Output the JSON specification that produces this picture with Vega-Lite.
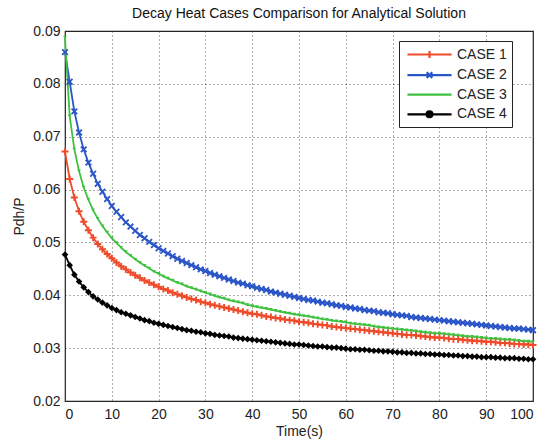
{
"$schema":"https://vega.github.io/schema/vega-lite/v6.json",
"width":468,"height":370,
"autosize":{"type":"none"},
"padding":{"left":65,"top":31,"right":10,"bottom":41},
"background":"white",
"title":{"text":"Decay Heat Cases Comparison for Analytical Solution","fontSize":14,"font":"Liberation Sans","fontWeight":"normal","color":"#111","offset":3,"anchor":"middle"},
"config":{
"view":{"stroke":"#222","strokeWidth":1.2},
"axis":{"labelFont":"Liberation Sans","titleFont":"Liberation Sans","labelFontSize":14,"titleFontSize":14,"titleFontWeight":"normal","labelColor":"#222","titleColor":"#222","domain":false,"ticks":false,"gridColor":"#333","gridDash":[1,3],"gridWidth":1,"gridOpacity":0.8},
"legend":{"labelFont":"Liberation Sans","labelFontSize":14,"labelColor":"#222"}
},
"datasets":{"d":[
{"t":0,"c":"CASE 1","v":0.0672},{"t":1,"c":"CASE 1","v":0.0620},{"t":2,"c":"CASE 1","v":0.0585},{"t":3,"c":"CASE 1","v":0.0559},{"t":4,"c":"CASE 1","v":0.0539},{"t":5,"c":"CASE 1","v":0.0523},{"t":6,"c":"CASE 1","v":0.0509},{"t":7,"c":"CASE 1","v":0.0497},{"t":8,"c":"CASE 1","v":0.0487},{"t":9,"c":"CASE 1","v":0.0478},
{"t":10,"c":"CASE 1","v":0.0470},{"t":11,"c":"CASE 1","v":0.0462},{"t":12,"c":"CASE 1","v":0.0455},{"t":13,"c":"CASE 1","v":0.0449},{"t":14,"c":"CASE 1","v":0.0443},{"t":15,"c":"CASE 1","v":0.0438},{"t":16,"c":"CASE 1","v":0.0433},{"t":17,"c":"CASE 1","v":0.0428},{"t":18,"c":"CASE 1","v":0.0424},{"t":19,"c":"CASE 1","v":0.0420},
{"t":20,"c":"CASE 1","v":0.0416},{"t":21,"c":"CASE 1","v":0.0412},{"t":22,"c":"CASE 1","v":0.0409},{"t":23,"c":"CASE 1","v":0.0405},{"t":24,"c":"CASE 1","v":0.0402},{"t":25,"c":"CASE 1","v":0.0399},{"t":26,"c":"CASE 1","v":0.0396},{"t":27,"c":"CASE 1","v":0.0393},{"t":28,"c":"CASE 1","v":0.0391},{"t":29,"c":"CASE 1","v":0.0388},
{"t":30,"c":"CASE 1","v":0.0386},{"t":31,"c":"CASE 1","v":0.0383},{"t":32,"c":"CASE 1","v":0.0381},{"t":33,"c":"CASE 1","v":0.0379},{"t":34,"c":"CASE 1","v":0.0377},{"t":35,"c":"CASE 1","v":0.0375},{"t":36,"c":"CASE 1","v":0.0373},{"t":37,"c":"CASE 1","v":0.0371},{"t":38,"c":"CASE 1","v":0.0369},{"t":39,"c":"CASE 1","v":0.0367},
{"t":40,"c":"CASE 1","v":0.0365},{"t":41,"c":"CASE 1","v":0.0364},{"t":42,"c":"CASE 1","v":0.0362},{"t":43,"c":"CASE 1","v":0.0360},{"t":44,"c":"CASE 1","v":0.0359},{"t":45,"c":"CASE 1","v":0.0357},{"t":46,"c":"CASE 1","v":0.0356},{"t":47,"c":"CASE 1","v":0.0354},{"t":48,"c":"CASE 1","v":0.0353},{"t":49,"c":"CASE 1","v":0.0352},
{"t":50,"c":"CASE 1","v":0.0350},{"t":51,"c":"CASE 1","v":0.0349},{"t":52,"c":"CASE 1","v":0.0348},{"t":53,"c":"CASE 1","v":0.0346},{"t":54,"c":"CASE 1","v":0.0345},{"t":55,"c":"CASE 1","v":0.0344},{"t":56,"c":"CASE 1","v":0.0343},{"t":57,"c":"CASE 1","v":0.0341},{"t":58,"c":"CASE 1","v":0.0340},{"t":59,"c":"CASE 1","v":0.0339},
{"t":60,"c":"CASE 1","v":0.0338},{"t":61,"c":"CASE 1","v":0.0337},{"t":62,"c":"CASE 1","v":0.0336},{"t":63,"c":"CASE 1","v":0.0335},{"t":64,"c":"CASE 1","v":0.0334},{"t":65,"c":"CASE 1","v":0.0333},{"t":66,"c":"CASE 1","v":0.0332},{"t":67,"c":"CASE 1","v":0.0331},{"t":68,"c":"CASE 1","v":0.0330},{"t":69,"c":"CASE 1","v":0.0329},
{"t":70,"c":"CASE 1","v":0.0328},{"t":71,"c":"CASE 1","v":0.0327},{"t":72,"c":"CASE 1","v":0.0326},{"t":73,"c":"CASE 1","v":0.0325},{"t":74,"c":"CASE 1","v":0.0325},{"t":75,"c":"CASE 1","v":0.0324},{"t":76,"c":"CASE 1","v":0.0323},{"t":77,"c":"CASE 1","v":0.0322},{"t":78,"c":"CASE 1","v":0.0321},{"t":79,"c":"CASE 1","v":0.0320},
{"t":80,"c":"CASE 1","v":0.0320},{"t":81,"c":"CASE 1","v":0.0319},{"t":82,"c":"CASE 1","v":0.0318},{"t":83,"c":"CASE 1","v":0.0317},{"t":84,"c":"CASE 1","v":0.0317},{"t":85,"c":"CASE 1","v":0.0316},{"t":86,"c":"CASE 1","v":0.0315},{"t":87,"c":"CASE 1","v":0.0314},{"t":88,"c":"CASE 1","v":0.0314},{"t":89,"c":"CASE 1","v":0.0313},
{"t":90,"c":"CASE 1","v":0.0312},{"t":91,"c":"CASE 1","v":0.0312},{"t":92,"c":"CASE 1","v":0.0311},{"t":93,"c":"CASE 1","v":0.0310},{"t":94,"c":"CASE 1","v":0.0310},{"t":95,"c":"CASE 1","v":0.0309},{"t":96,"c":"CASE 1","v":0.0308},{"t":97,"c":"CASE 1","v":0.0308},{"t":98,"c":"CASE 1","v":0.0307},{"t":99,"c":"CASE 1","v":0.0307},{"t":100,"c":"CASE 1","v":0.0306},
{"t":0,"c":"CASE 2","v":0.0860},{"t":1,"c":"CASE 2","v":0.0804},{"t":2,"c":"CASE 2","v":0.0748},{"t":3,"c":"CASE 2","v":0.0708},{"t":4,"c":"CASE 2","v":0.0676},{"t":5,"c":"CASE 2","v":0.0651},{"t":6,"c":"CASE 2","v":0.0630},{"t":7,"c":"CASE 2","v":0.0611},{"t":8,"c":"CASE 2","v":0.0596},{"t":9,"c":"CASE 2","v":0.0582},
{"t":10,"c":"CASE 2","v":0.0569},{"t":11,"c":"CASE 2","v":0.0558},{"t":12,"c":"CASE 2","v":0.0548},{"t":13,"c":"CASE 2","v":0.0538},{"t":14,"c":"CASE 2","v":0.0530},{"t":15,"c":"CASE 2","v":0.0522},{"t":16,"c":"CASE 2","v":0.0514},{"t":17,"c":"CASE 2","v":0.0508},{"t":18,"c":"CASE 2","v":0.0501},{"t":19,"c":"CASE 2","v":0.0495},
{"t":20,"c":"CASE 2","v":0.0489},{"t":21,"c":"CASE 2","v":0.0484},{"t":22,"c":"CASE 2","v":0.0479},{"t":23,"c":"CASE 2","v":0.0474},{"t":24,"c":"CASE 2","v":0.0469},{"t":25,"c":"CASE 2","v":0.0465},{"t":26,"c":"CASE 2","v":0.0461},{"t":27,"c":"CASE 2","v":0.0457},{"t":28,"c":"CASE 2","v":0.0453},{"t":29,"c":"CASE 2","v":0.0449},
{"t":30,"c":"CASE 2","v":0.0446},{"t":31,"c":"CASE 2","v":0.0442},{"t":32,"c":"CASE 2","v":0.0439},{"t":33,"c":"CASE 2","v":0.0436},{"t":34,"c":"CASE 2","v":0.0433},{"t":35,"c":"CASE 2","v":0.0430},{"t":36,"c":"CASE 2","v":0.0427},{"t":37,"c":"CASE 2","v":0.0424},{"t":38,"c":"CASE 2","v":0.0422},{"t":39,"c":"CASE 2","v":0.0419},
{"t":40,"c":"CASE 2","v":0.0417},{"t":41,"c":"CASE 2","v":0.0414},{"t":42,"c":"CASE 2","v":0.0412},{"t":43,"c":"CASE 2","v":0.0410},{"t":44,"c":"CASE 2","v":0.0407},{"t":45,"c":"CASE 2","v":0.0405},{"t":46,"c":"CASE 2","v":0.0403},{"t":47,"c":"CASE 2","v":0.0401},{"t":48,"c":"CASE 2","v":0.0399},{"t":49,"c":"CASE 2","v":0.0397},
{"t":50,"c":"CASE 2","v":0.0395},{"t":51,"c":"CASE 2","v":0.0393},{"t":52,"c":"CASE 2","v":0.0391},{"t":53,"c":"CASE 2","v":0.0390},{"t":54,"c":"CASE 2","v":0.0388},{"t":55,"c":"CASE 2","v":0.0386},{"t":56,"c":"CASE 2","v":0.0385},{"t":57,"c":"CASE 2","v":0.0383},{"t":58,"c":"CASE 2","v":0.0381},{"t":59,"c":"CASE 2","v":0.0380},
{"t":60,"c":"CASE 2","v":0.0378},{"t":61,"c":"CASE 2","v":0.0377},{"t":62,"c":"CASE 2","v":0.0375},{"t":63,"c":"CASE 2","v":0.0374},{"t":64,"c":"CASE 2","v":0.0372},{"t":65,"c":"CASE 2","v":0.0371},{"t":66,"c":"CASE 2","v":0.0370},{"t":67,"c":"CASE 2","v":0.0368},{"t":68,"c":"CASE 2","v":0.0367},{"t":69,"c":"CASE 2","v":0.0366},
{"t":70,"c":"CASE 2","v":0.0364},{"t":71,"c":"CASE 2","v":0.0363},{"t":72,"c":"CASE 2","v":0.0362},{"t":73,"c":"CASE 2","v":0.0361},{"t":74,"c":"CASE 2","v":0.0359},{"t":75,"c":"CASE 2","v":0.0358},{"t":76,"c":"CASE 2","v":0.0357},{"t":77,"c":"CASE 2","v":0.0356},{"t":78,"c":"CASE 2","v":0.0355},{"t":79,"c":"CASE 2","v":0.0354},
{"t":80,"c":"CASE 2","v":0.0353},{"t":81,"c":"CASE 2","v":0.0352},{"t":82,"c":"CASE 2","v":0.0351},{"t":83,"c":"CASE 2","v":0.0350},{"t":84,"c":"CASE 2","v":0.0349},{"t":85,"c":"CASE 2","v":0.0348},{"t":86,"c":"CASE 2","v":0.0347},{"t":87,"c":"CASE 2","v":0.0346},{"t":88,"c":"CASE 2","v":0.0345},{"t":89,"c":"CASE 2","v":0.0344},
{"t":90,"c":"CASE 2","v":0.0343},{"t":91,"c":"CASE 2","v":0.0342},{"t":92,"c":"CASE 2","v":0.0341},{"t":93,"c":"CASE 2","v":0.0340},{"t":94,"c":"CASE 2","v":0.0339},{"t":95,"c":"CASE 2","v":0.0338},{"t":96,"c":"CASE 2","v":0.0337},{"t":97,"c":"CASE 2","v":0.0337},{"t":98,"c":"CASE 2","v":0.0336},{"t":99,"c":"CASE 2","v":0.0335},{"t":100,"c":"CASE 2","v":0.0334},
{"t":0,"c":"CASE 3","v":0.0888},{"t":1,"c":"CASE 3","v":0.0739},{"t":2,"c":"CASE 3","v":0.0676},{"t":3,"c":"CASE 3","v":0.0635},{"t":4,"c":"CASE 3","v":0.0604},{"t":5,"c":"CASE 3","v":0.0581},{"t":6,"c":"CASE 3","v":0.0561},{"t":7,"c":"CASE 3","v":0.0545},{"t":8,"c":"CASE 3","v":0.0531},{"t":9,"c":"CASE 3","v":0.0519},
{"t":10,"c":"CASE 3","v":0.0508},{"t":11,"c":"CASE 3","v":0.0499},{"t":12,"c":"CASE 3","v":0.0490},{"t":13,"c":"CASE 3","v":0.0482},{"t":14,"c":"CASE 3","v":0.0475},{"t":15,"c":"CASE 3","v":0.0468},{"t":16,"c":"CASE 3","v":0.0462},{"t":17,"c":"CASE 3","v":0.0456},{"t":18,"c":"CASE 3","v":0.0451},{"t":19,"c":"CASE 3","v":0.0445},
{"t":20,"c":"CASE 3","v":0.0441},{"t":21,"c":"CASE 3","v":0.0436},{"t":22,"c":"CASE 3","v":0.0432},{"t":23,"c":"CASE 3","v":0.0428},{"t":24,"c":"CASE 3","v":0.0424},{"t":25,"c":"CASE 3","v":0.0421},{"t":26,"c":"CASE 3","v":0.0417},{"t":27,"c":"CASE 3","v":0.0414},{"t":28,"c":"CASE 3","v":0.0411},{"t":29,"c":"CASE 3","v":0.0408},
{"t":30,"c":"CASE 3","v":0.0405},{"t":31,"c":"CASE 3","v":0.0402},{"t":32,"c":"CASE 3","v":0.0399},{"t":33,"c":"CASE 3","v":0.0396},{"t":34,"c":"CASE 3","v":0.0394},{"t":35,"c":"CASE 3","v":0.0391},{"t":36,"c":"CASE 3","v":0.0389},{"t":37,"c":"CASE 3","v":0.0387},{"t":38,"c":"CASE 3","v":0.0385},{"t":39,"c":"CASE 3","v":0.0382},
{"t":40,"c":"CASE 3","v":0.0380},{"t":41,"c":"CASE 3","v":0.0378},{"t":42,"c":"CASE 3","v":0.0376},{"t":43,"c":"CASE 3","v":0.0375},{"t":44,"c":"CASE 3","v":0.0373},{"t":45,"c":"CASE 3","v":0.0371},{"t":46,"c":"CASE 3","v":0.0369},{"t":47,"c":"CASE 3","v":0.0367},{"t":48,"c":"CASE 3","v":0.0366},{"t":49,"c":"CASE 3","v":0.0364},
{"t":50,"c":"CASE 3","v":0.0363},{"t":51,"c":"CASE 3","v":0.0361},{"t":52,"c":"CASE 3","v":0.0360},{"t":53,"c":"CASE 3","v":0.0358},{"t":54,"c":"CASE 3","v":0.0357},{"t":55,"c":"CASE 3","v":0.0355},{"t":56,"c":"CASE 3","v":0.0354},{"t":57,"c":"CASE 3","v":0.0352},{"t":58,"c":"CASE 3","v":0.0351},{"t":59,"c":"CASE 3","v":0.0350},
{"t":60,"c":"CASE 3","v":0.0349},{"t":61,"c":"CASE 3","v":0.0347},{"t":62,"c":"CASE 3","v":0.0346},{"t":63,"c":"CASE 3","v":0.0345},{"t":64,"c":"CASE 3","v":0.0344},{"t":65,"c":"CASE 3","v":0.0343},{"t":66,"c":"CASE 3","v":0.0341},{"t":67,"c":"CASE 3","v":0.0340},{"t":68,"c":"CASE 3","v":0.0339},{"t":69,"c":"CASE 3","v":0.0338},
{"t":70,"c":"CASE 3","v":0.0337},{"t":71,"c":"CASE 3","v":0.0336},{"t":72,"c":"CASE 3","v":0.0335},{"t":73,"c":"CASE 3","v":0.0334},{"t":74,"c":"CASE 3","v":0.0333},{"t":75,"c":"CASE 3","v":0.0332},{"t":76,"c":"CASE 3","v":0.0331},{"t":77,"c":"CASE 3","v":0.0330},{"t":78,"c":"CASE 3","v":0.0329},{"t":79,"c":"CASE 3","v":0.0328},
{"t":80,"c":"CASE 3","v":0.0328},{"t":81,"c":"CASE 3","v":0.0327},{"t":82,"c":"CASE 3","v":0.0326},{"t":83,"c":"CASE 3","v":0.0325},{"t":84,"c":"CASE 3","v":0.0324},{"t":85,"c":"CASE 3","v":0.0323},{"t":86,"c":"CASE 3","v":0.0322},{"t":87,"c":"CASE 3","v":0.0322},{"t":88,"c":"CASE 3","v":0.0321},{"t":89,"c":"CASE 3","v":0.0320},
{"t":90,"c":"CASE 3","v":0.0319},{"t":91,"c":"CASE 3","v":0.0318},{"t":92,"c":"CASE 3","v":0.0318},{"t":93,"c":"CASE 3","v":0.0317},{"t":94,"c":"CASE 3","v":0.0316},{"t":95,"c":"CASE 3","v":0.0316},{"t":96,"c":"CASE 3","v":0.0315},{"t":97,"c":"CASE 3","v":0.0314},{"t":98,"c":"CASE 3","v":0.0313},{"t":99,"c":"CASE 3","v":0.0313},{"t":100,"c":"CASE 3","v":0.0312},
{"t":0,"c":"CASE 4","v":0.0477},{"t":1,"c":"CASE 4","v":0.0457},{"t":2,"c":"CASE 4","v":0.0439},{"t":3,"c":"CASE 4","v":0.0426},{"t":4,"c":"CASE 4","v":0.0415},{"t":5,"c":"CASE 4","v":0.0406},{"t":6,"c":"CASE 4","v":0.0398},{"t":7,"c":"CASE 4","v":0.0392},{"t":8,"c":"CASE 4","v":0.0386},{"t":9,"c":"CASE 4","v":0.0381},
{"t":10,"c":"CASE 4","v":0.0376},{"t":11,"c":"CASE 4","v":0.0372},{"t":12,"c":"CASE 4","v":0.0368},{"t":13,"c":"CASE 4","v":0.0365},{"t":14,"c":"CASE 4","v":0.0362},{"t":15,"c":"CASE 4","v":0.0359},{"t":16,"c":"CASE 4","v":0.0356},{"t":17,"c":"CASE 4","v":0.0353},{"t":18,"c":"CASE 4","v":0.0351},{"t":19,"c":"CASE 4","v":0.0348},
{"t":20,"c":"CASE 4","v":0.0346},{"t":21,"c":"CASE 4","v":0.0344},{"t":22,"c":"CASE 4","v":0.0342},{"t":23,"c":"CASE 4","v":0.0340},{"t":24,"c":"CASE 4","v":0.0338},{"t":25,"c":"CASE 4","v":0.0336},{"t":26,"c":"CASE 4","v":0.0334},{"t":27,"c":"CASE 4","v":0.0333},{"t":28,"c":"CASE 4","v":0.0331},{"t":29,"c":"CASE 4","v":0.0330},
{"t":30,"c":"CASE 4","v":0.0328},{"t":31,"c":"CASE 4","v":0.0327},{"t":32,"c":"CASE 4","v":0.0325},{"t":33,"c":"CASE 4","v":0.0324},{"t":34,"c":"CASE 4","v":0.0323},{"t":35,"c":"CASE 4","v":0.0322},{"t":36,"c":"CASE 4","v":0.0320},{"t":37,"c":"CASE 4","v":0.0319},{"t":38,"c":"CASE 4","v":0.0318},{"t":39,"c":"CASE 4","v":0.0317},
{"t":40,"c":"CASE 4","v":0.0316},{"t":41,"c":"CASE 4","v":0.0315},{"t":42,"c":"CASE 4","v":0.0314},{"t":43,"c":"CASE 4","v":0.0313},{"t":44,"c":"CASE 4","v":0.0312},{"t":45,"c":"CASE 4","v":0.0311},{"t":46,"c":"CASE 4","v":0.0310},{"t":47,"c":"CASE 4","v":0.0309},{"t":48,"c":"CASE 4","v":0.0308},{"t":49,"c":"CASE 4","v":0.0307},
{"t":50,"c":"CASE 4","v":0.0307},{"t":51,"c":"CASE 4","v":0.0306},{"t":52,"c":"CASE 4","v":0.0305},{"t":53,"c":"CASE 4","v":0.0304},{"t":54,"c":"CASE 4","v":0.0303},{"t":55,"c":"CASE 4","v":0.0303},{"t":56,"c":"CASE 4","v":0.0302},{"t":57,"c":"CASE 4","v":0.0301},{"t":58,"c":"CASE 4","v":0.0301},{"t":59,"c":"CASE 4","v":0.0300},
{"t":60,"c":"CASE 4","v":0.0299},{"t":61,"c":"CASE 4","v":0.0298},{"t":62,"c":"CASE 4","v":0.0298},{"t":63,"c":"CASE 4","v":0.0297},{"t":64,"c":"CASE 4","v":0.0297},{"t":65,"c":"CASE 4","v":0.0296},{"t":66,"c":"CASE 4","v":0.0295},{"t":67,"c":"CASE 4","v":0.0295},{"t":68,"c":"CASE 4","v":0.0294},{"t":69,"c":"CASE 4","v":0.0294},
{"t":70,"c":"CASE 4","v":0.0293},{"t":71,"c":"CASE 4","v":0.0292},{"t":72,"c":"CASE 4","v":0.0292},{"t":73,"c":"CASE 4","v":0.0291},{"t":74,"c":"CASE 4","v":0.0291},{"t":75,"c":"CASE 4","v":0.0290},{"t":76,"c":"CASE 4","v":0.0290},{"t":77,"c":"CASE 4","v":0.0289},{"t":78,"c":"CASE 4","v":0.0289},{"t":79,"c":"CASE 4","v":0.0288},
{"t":80,"c":"CASE 4","v":0.0288},{"t":81,"c":"CASE 4","v":0.0287},{"t":82,"c":"CASE 4","v":0.0287},{"t":83,"c":"CASE 4","v":0.0286},{"t":84,"c":"CASE 4","v":0.0286},{"t":85,"c":"CASE 4","v":0.0285},{"t":86,"c":"CASE 4","v":0.0285},{"t":87,"c":"CASE 4","v":0.0284},{"t":88,"c":"CASE 4","v":0.0284},{"t":89,"c":"CASE 4","v":0.0283},
{"t":90,"c":"CASE 4","v":0.0283},{"t":91,"c":"CASE 4","v":0.0283},{"t":92,"c":"CASE 4","v":0.0282},{"t":93,"c":"CASE 4","v":0.0282},{"t":94,"c":"CASE 4","v":0.0281},{"t":95,"c":"CASE 4","v":0.0281},{"t":96,"c":"CASE 4","v":0.0281},{"t":97,"c":"CASE 4","v":0.0280},{"t":98,"c":"CASE 4","v":0.0280},{"t":99,"c":"CASE 4","v":0.0279},{"t":100,"c":"CASE 4","v":0.0279}
]},
"data":{"name":"d"},
"encoding":{
"x":{"field":"t","type":"quantitative","scale":{"domain":[0,100],"nice":false,"zero":false},"axis":{"values":[0,10,20,30,40,50,60,70,80,90,100],"title":"Time(s)","labelPadding":6,"titlePadding":3}},
"y":{"field":"v","type":"quantitative","scale":{"domain":[0.02,0.09],"nice":false,"zero":false},"axis":{"values":[0.02,0.03,0.04,0.05,0.06,0.07,0.08,0.09],"format":".2f","title":"Pdh/P","labelPadding":5,"titlePadding":6}}
},
"layer":[
{"mark":{"type":"line","strokeWidth":1.8,"interpolate":"linear"},
 "encoding":{"color":{"field":"c","type":"nominal","scale":{"domain":["CASE 1","CASE 2","CASE 3","CASE 4"],"range":["#ef4a2a","#2a55c8","#3fc13f","#000000"]},"legend":{"title":null,"orient":"none","legendX":334,"legendY":10,"symbolType":"M-3.15,0L3.15,0","symbolSize":196,"symbolStrokeWidth":2.2,"symbolOffset":17,"strokeColor":"#222","fillColor":"white","padding":5,"rowPadding":3.6,"labelOffset":19,"labelFontSize":14,
 "encode":{"symbols":{"update":{
  "shape":{"signal":"datum.value==='CASE 1'?'M-3.15,0L3.15,0M0,-0.5L0,0.5':datum.value==='CASE 2'?'M-3.15,0L3.15,0M-0.4,-0.4L0.4,0.4M0.4,-0.4L-0.4,0.4':datum.value==='CASE 3'?'M-3.15,0L3.15,0':'M-3.15,0L3.15,0M-0.42,0A0.42,0.42 0 1,0 0.42,0A0.42,0.42 0 1,0 -0.42,0'"},
  "fill":{"signal":"datum.value==='CASE 4'?'#000000':'transparent'"}}}}}}}},
{"transform":[{"filter":{"field":"c","equal":"CASE 1"}}],
 "mark":{"type":"point","filled":false,"shape":"M-1,0L1,0M0,-1L0,1","size":49,"stroke":"#ef4a2a","strokeWidth":1.9,"opacity":1}},
{"transform":[{"filter":{"field":"c","equal":"CASE 2"}}],
 "mark":{"type":"point","filled":false,"shape":"M-1,-1L1,1M1,-1L-1,1","size":32,"stroke":"#2a55c8","strokeWidth":1.8,"opacity":1}},
{"transform":[{"filter":{"field":"c","equal":"CASE 3"}}],
 "mark":{"type":"point","filled":true,"shape":"triangle-down","size":14,"color":"#3fc13f","opacity":1}},
{"transform":[{"filter":{"field":"c","equal":"CASE 4"}}],
 "mark":{"type":"point","filled":true,"shape":"diamond","size":44,"color":"#000000","opacity":1}}
]
}
